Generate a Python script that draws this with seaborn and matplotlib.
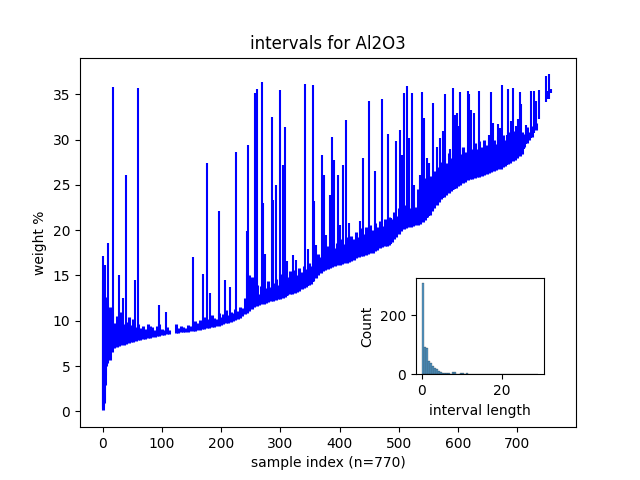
import numpy as np
import pandas as pd
import matplotlib
matplotlib.use("Agg")
import matplotlib.pyplot as plt
import seaborn as sns

# dense band of intervals (sorted by lower bound)
band_idx = [0, 1, 2, 3, 4, 5, 6, 8, 12, 16, 20, 24, 28, 32, 36, 40, 44, 48, 52, 56,
            60, 64, 68, 72, 76, 80, 84, 88, 92, 96, 100, 104, 108, 112,
            124, 128, 132, 136, 140, 144, 148, 152, 156, 160, 164, 168, 172, 176, 180,
            184, 188, 192, 196, 200, 204, 208, 212, 216, 220, 224, 228, 232, 236, 240,
            244, 248, 252, 256, 260, 264, 268, 272, 276, 280, 284, 288, 292, 296, 300,
            304, 308, 312, 316, 320, 324, 328, 332, 336, 340, 344, 348, 352, 356, 360,
            364, 368, 372, 376, 380, 384, 388, 392, 396, 400, 404, 408, 412, 416, 420,
            424, 428, 432, 436, 440, 444, 448, 452, 456, 460, 464, 468, 472, 476, 480,
            484, 488, 492, 496, 500, 504, 508, 512, 516, 520, 524, 528, 532, 536, 540,
            544, 548, 552, 556, 560, 564, 568, 572, 576, 580, 584, 588, 592, 596, 600,
            604, 608, 612, 616, 620, 624, 628, 632, 636, 640, 644, 648, 652, 656, 660,
            664, 668, 672, 676, 680, 684, 688, 692, 696, 700, 704, 708, 712, 716, 720,
            724, 732]
band_lo = [0.1, 0.6, 0.9, 1.2, 2.9, 4.0, 5.0, 5.3, 5.7, 6.5, 7.0, 7.1, 7.2, 7.3, 7.35, 7.4, 7.5, 7.6, 7.7, 7.8,
           7.85, 7.9, 7.95, 8.0, 8.05, 8.1, 8.15, 8.2, 8.3, 8.35, 8.4, 8.45, 8.5, 8.55,
           8.65, 8.7, 8.72, 8.75, 8.78, 8.8, 8.83, 8.86, 8.9, 8.95, 9.0, 9.05, 9.1, 9.15, 9.2,
           9.3, 9.35, 9.4, 9.45, 9.5, 9.6, 9.7, 9.8, 9.9, 10.0, 10.1, 10.2, 10.3, 10.5, 10.7,
           10.9, 11.1, 11.3, 11.5, 11.6, 11.7, 11.8, 11.9, 12.0, 12.1, 12.15, 12.2, 12.3, 12.35, 12.4,
           12.5, 12.6, 12.8, 12.9, 13.0, 13.1, 13.2, 13.3, 13.45, 13.6, 13.75, 13.9, 14.1, 14.4, 14.7,
           15.0, 15.3, 15.45, 15.6, 15.7, 15.8, 15.9, 16.0, 16.1, 16.2, 16.3, 16.35, 16.4, 16.5, 16.6,
           16.75, 16.9, 17.0, 17.1, 17.2, 17.3, 17.4, 17.45, 17.5, 17.7, 17.85, 18.0, 18.1, 18.2, 18.3,
           18.4, 18.7, 19.0, 19.3, 19.6, 19.9, 20.1, 20.2, 20.3, 20.4, 20.5, 20.55, 20.6, 20.7, 20.9,
           21.1, 21.4, 21.7, 22.1, 22.5, 22.8, 23.1, 23.4, 23.7, 23.9, 24.1, 24.3, 24.5, 24.7, 24.9,
           25.0, 25.2, 25.35, 25.5, 25.6, 25.7, 25.8, 25.85, 25.9, 26.0, 26.1, 26.2, 26.3, 26.4, 26.5,
           26.6, 26.7, 26.8, 26.95, 27.1, 27.3, 27.45, 27.6, 27.8, 28.0, 28.2, 28.4, 29.2, 29.6, 30.0,
           30.3, 31.1]
band_hi = [14.5, 13.0, 12.0, 11.5, 12.6, 11.8, 12.0, 12.0, 11.5, 10.8, 9.8, 10.5, 9.4, 11.0, 9.6, 9.9, 10.4, 9.5, 10.2, 9.3,
           9.6, 9.2, 9.4, 9.1, 9.6, 9.4, 9.3, 9.0, 9.4, 9.6, 9.1, 9.0, 9.3, 9.0,
           9.6, 9.2, 9.4, 9.3, 9.2, 9.5, 9.4, 9.6, 10.0, 9.7, 10.1, 9.8, 10.4, 10.2, 10.0,
           10.6, 10.3, 10.2, 10.8, 10.4, 10.7, 11.2, 10.6, 11.0, 10.9, 11.3, 11.1, 11.5, 11.4, 12.5,
           15.3, 15.0, 14.8, 13.2, 14.0, 13.0, 13.8, 13.4, 13.6, 14.4, 13.7, 14.2, 14.6, 14.0, 15.2,
           14.5, 15.0, 14.8, 15.5, 14.9, 15.6, 15.0, 15.8, 15.4, 16.0, 15.7, 16.4, 16.0, 16.8, 16.5,
           17.4, 17.0, 17.8, 17.3, 18.2, 17.6, 18.4, 18.0, 18.6, 18.3, 19.0, 18.5, 19.2, 18.8, 19.4,
           19.0, 19.8, 19.3, 20.2, 19.6, 20.4, 19.8, 20.6, 20.0, 20.8, 20.3, 21.0, 20.5, 21.2, 20.8,
           21.5, 21.2, 22.0, 21.6, 22.4, 22.0, 22.8, 22.3, 23.0, 22.5, 23.2, 22.6, 24.5, 25.5, 24.8,
           25.8, 25.2, 26.0, 25.6, 26.5, 26.0, 27.0, 27.5, 28.0, 27.4, 28.5, 28.0, 28.8, 28.2, 29.0,
           28.4, 29.2, 28.6, 29.4, 28.8, 29.0, 29.6, 29.0, 29.8, 29.2, 30.0, 29.4, 30.2, 29.6, 30.0,
           29.5, 30.4, 29.8, 30.5, 30.0, 30.8, 30.2, 31.0, 30.4, 31.2, 30.6, 30.8, 30.6, 31.4, 30.8,
           31.5, 31.8]

# long intervals standing out of the band
spike_idx = [1, 2, 5, 10, 18, 27, 35, 40, 54, 60, 96, 107, 152, 170, 177, 182, 196, 207,
             215, 226, 243, 245, 257, 260, 269, 271, 274, 286, 288, 292, 299, 304, 308, 311,
             321, 327, 342, 346, 355, 357, 361, 371, 374, 377, 384, 387, 391, 397, 401, 405,
             411, 416, 434, 439, 446, 450, 460, 471, 475, 481, 486, 496, 502, 506, 509, 513,
             517, 523, 526, 536, 539, 543, 547, 551, 557, 564, 570, 575, 578, 587, 591, 594,
             598, 601, 604, 609, 616, 619, 622, 627, 632, 635, 653, 656, 659, 663, 668, 670,
             674, 678, 683, 685, 689, 693, 697, 701, 705, 707, 711, 715, 723, 728, 731, 737,
             749, 752, 754, 757]
spike_lo = [0.3, 0.8, 3.5, 5.5, 6.9, 7.2, 7.35, 7.4, 7.75, 7.85, 8.35, 8.5, 8.86, 9.1, 9.15, 9.3, 9.45, 9.7,
            9.9, 10.1, 10.8, 10.9, 11.5, 11.6, 11.8, 11.85, 11.95, 12.2, 12.2, 12.3, 12.4, 12.5, 12.6, 12.7,
            13.0, 13.2, 13.7, 13.8, 14.3, 14.4, 14.7, 15.4, 15.5, 15.6, 15.8, 15.9, 16.0, 16.1, 16.2, 16.3,
            16.4, 16.5, 17.05, 17.2, 17.35, 17.4, 17.7, 18.1, 18.2, 18.3, 18.5, 19.3, 19.7, 20.0, 20.1, 20.2,
            20.3, 20.45, 20.5, 20.7, 20.85, 21.05, 21.3, 21.6, 22.2, 22.8, 23.25, 23.6, 23.8, 24.25, 24.45, 24.6,
            24.8, 24.9, 25.0, 25.25, 25.5, 25.6, 25.65, 25.8, 25.85, 25.9, 26.3, 26.4, 26.5, 26.6, 26.7, 26.75,
            26.9, 27.0, 27.25, 27.35, 27.5, 27.6, 27.85, 28.05, 28.25, 28.35, 29.0, 29.5, 30.2, 30.7, 31.1, 32.3,
            34.2, 34.5, 34.5, 35.2]
spike_hi = [17.1, 14.5, 16.1, 18.6, 35.8, 15.1, 12.5, 26.1, 14.5, 35.7, 11.7, 11.0, 17.0, 15.2, 27.4, 13.1, 22.1, 14.5,
            13.7, 28.6, 19.9, 29.4, 35.1, 35.6, 36.4, 23.0, 17.4, 32.5, 23.3, 25.0, 35.5, 27.2, 31.4, 16.6,
            17.3, 16.7, 36.1, 17.9, 36.0, 23.2, 18.4, 28.3, 26.1, 19.5, 23.9, 30.3, 27.8, 26.1, 20.6, 27.2,
            32.2, 20.8, 21.0, 28.0, 20.2, 34.3, 26.5, 34.5, 20.4, 30.6, 21.3, 29.8, 31.1, 28.3, 35.2, 35.9,
            30.2, 35.2, 25.0, 26.1, 35.3, 32.4, 28.0, 27.4, 34.0, 29.2, 30.2, 30.9, 35.0, 29.0, 35.7, 32.7,
            32.9, 31.5, 35.3, 29.1, 35.4, 35.0, 33.3, 32.9, 28.6, 35.4, 30.5, 35.3, 31.8, 29.1, 31.7, 31.3,
            36.0, 29.1, 30.5, 35.6, 32.0, 35.7, 31.5, 32.3, 35.3, 33.9, 30.5, 31.6, 35.4, 35.4, 34.3, 35.5,
            37.0, 35.4, 37.2, 35.6]

# histogram of interval lengths (bins of 0.5 from 0 to 29)
bin_width = 0.5
bin_counts = [310, 92, 88, 45, 40, 29, 22, 17, 13, 8, 6, 5, 5, 4, 3, 8, 8, 3, 2, 4,
              4, 2, 4, 2, 3, 2, 1, 2, 1, 1, 2, 1, 1, 0, 1, 1, 2, 1, 0, 1,
              1, 1, 0, 1, 0, 1, 1, 0, 1, 0, 1, 0, 1, 1, 0, 0, 1, 1]

fig, ax = plt.subplots(figsize=(6.4, 4.8), dpi=100)
ax.vlines(band_idx, band_lo, band_hi, color='b', linewidth=2.2)
ax.vlines(spike_idx, spike_lo, spike_hi, color='b', linewidth=1.5)
ax.set_xlim(-38, 799)
ax.set_xlabel('sample index (n=770)')
ax.set_ylabel('weight %')
ax.set_title('intervals for Al2O3')

# inset histogram
n_bins = len(bin_counts)
hist_df = pd.DataFrame({
    'length': (np.arange(n_bins) + 0.5) * bin_width,
    'count': bin_counts,
})
inset = fig.add_axes([0.65, 0.22, 0.2, 0.2])
sns.histplot(data=hist_df, x='length', weights='count',
             binwidth=bin_width, binrange=(0, n_bins * bin_width), ax=inset)
inset.set_xlabel('interval length')
inset.set_ylabel('Count')

fig.savefig('out.png', dpi=100)
